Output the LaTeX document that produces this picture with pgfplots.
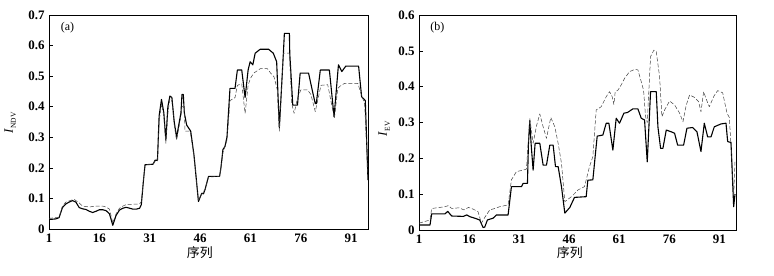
\documentclass[border=0pt]{standalone}
\usepackage{fontspec}
\setmainfont{Liberation Serif}
\newfontfamily\cjk{Noto Sans CJK SC}
\usepackage{pgfplots}
\pgfplotsset{compat=1.18}
\pgfplotsset{
  myax/.style={
    scale only axis,
    xmin=1, xmax=96, ymin=0,
    xtick={1,16,31,46,61,76,91},
    tick align=inside,
    xtick style={draw=none},
    ytick style={black, line width=0.6bp},
    major tick length=4bp,
    axis line style={line width=0.8bp},
    ticklabel style={font=\fontsize{13}{15}\selectfont\bfseries},
    /pgf/number format/assume math mode=true,
    yticklabel style={/pgf/number format/fixed, /pgf/number format/precision=1, xshift=-1bp},
    xticklabel style={yshift=-1bp},
    xtick pos=bottom, ytick pos=left,
    clip mode=individual,
  },
  sol/.style={black, line width=1.1bp, line join=round},
  das/.style={black!75, line width=0.5bp, dash pattern=on 4bp off 2bp, line join=round},
}
\begin{document}
\begin{tikzpicture}
\useasboundingbox (0,0) rectangle (774bp,276bp);
% ---------- (a)
\begin{axis}[myax, at={(49bp,47bp)}, anchor=south west, width=319bp, height=214bp,
  ymax=0.7, ytick={0,0.1,...,0.7}]
\addplot[sol] coordinates {(1,0.032)(2,0.032)(3,0.033)(4,0.037)(5,0.07)(6,0.082)(7,0.088)(8,0.093)(9,0.088)(10,0.07)(11,0.066)(12,0.064)(13,0.058)(14,0.054)(15,0.058)(16,0.063)(17,0.063)(18,0.06)(19,0.05)(20,0.012)(21,0.045)(22,0.062)(23,0.068)(24,0.071)(25,0.068)(26,0.065)(27,0.065)(28,0.068)(28.5,0.08)(29.1,0.155)(29.6,0.21)(32,0.212)(32.6,0.225)(33.3,0.225)(33.8,0.37)(34.5,0.424)(35.2,0.38)(35.8,0.29)(36.4,0.40)(37,0.435)(37.6,0.43)(38.3,0.35)(39,0.30)(39.8,0.35)(40.3,0.38)(40.6,0.44)(41,0.44)(41.3,0.38)(42,0.34)(43.2,0.32)(44.2,0.24)(45.5,0.09)(46.5,0.117)(47,0.115)(47.5,0.13)(48.5,0.172)(51.8,0.172)(52.2,0.2)(52.8,0.26)(53.4,0.27)(54,0.30)(54.9,0.46)(56.4,0.46)(57.1,0.52)(58.4,0.52)(59.4,0.43)(60.3,0.52)(60.9,0.547)(61.7,0.537)(62.4,0.575)(63.9,0.588)(66.4,0.588)(67.8,0.575)(68.8,0.547)(69.6,0.33)(70.8,0.575)(71.1,0.64)(72.6,0.64)(72.7,0.575)(73.6,0.405)(75,0.405)(75.8,0.51)(78.3,0.51)(79.6,0.444)(80.3,0.41)(80.6,0.41)(81.8,0.52)(84.5,0.52)(85.9,0.367)(87.2,0.537)(88.2,0.515)(89.4,0.533)(93.2,0.533)(94.1,0.433)(95.2,0.42)(96,0.16)};
\addplot[das] coordinates {(1,0.035)(4,0.038)(5,0.075)(6,0.088)(7,0.092)(8.5,0.097)(10,0.085)(11,0.075)(13,0.072)(15,0.075)(17,0.075)(18,0.072)(19,0.065)(20,0.02)(21,0.05)(22,0.068)(23,0.075)(24,0.08)(28,0.082)(28.5,0.09)(29.1,0.155)(29.6,0.21)(32,0.212)(32.6,0.222)(33.3,0.222)(33.8,0.35)(34.5,0.41)(35.2,0.37)(35.8,0.28)(36.4,0.38)(37,0.425)(37.6,0.42)(38.3,0.34)(39,0.29)(39.8,0.34)(40.3,0.37)(40.6,0.40)(41.3,0.40)(41.5,0.32)(43,0.32)(43.2,0.31)(44.2,0.235)(45.5,0.095)(46.5,0.115)(47.5,0.13)(48.5,0.17)(51.8,0.172)(52.2,0.2)(52.8,0.25)(54,0.29)(54.9,0.42)(56.4,0.43)(57.1,0.47)(58.4,0.475)(59.4,0.378)(60.3,0.47)(61,0.493)(62,0.51)(64,0.525)(66,0.525)(67,0.51)(68,0.498)(69,0.455)(69.6,0.32)(70.8,0.575)(72.6,0.575)(73.3,0.41)(74,0.378)(75,0.428)(76,0.455)(78,0.455)(79,0.44)(80.3,0.384)(82,0.47)(84,0.472)(86,0.362)(87,0.46)(88,0.47)(89,0.476)(93,0.476)(94,0.44)(95,0.41)(96,0.17)};
\node[font=\fontsize{12}{14}\selectfont] at (axis description cs:0.058,0.94) {(a)};
\node[font=\fontsize{13}{15}\selectfont\cjk] at (axis description cs:0.473,-0.112) {序列};
\node[rotate=90, font=\fontsize{13}{15}\selectfont] at (axis description cs:-0.122,0.495) {\textit{I}\raisebox{-0.5ex}{\fontsize{7.5}{8}\selectfont NDV}};
\end{axis}
% ---------- (b)
\begin{axis}[myax, at={(419bp,46bp)}, anchor=south west, width=317bp, height=215bp,
  ymax=0.6, ytick={0,0.1,...,0.6}]
\addplot[sol] coordinates {(1,0.014)(4.3,0.014)(4.8,0.045)(8.8,0.045)(9.6,0.052)(10.8,0.039)(14.3,0.038)(15.3,0.042)(16.3,0.037)(17.7,0.033)(19.2,0.028)(20.2,0.007)(20.7,0.008)(21.5,0.028)(23.2,0.033)(24.2,0.042)(27.7,0.042)(28.7,0.121)(31.7,0.121)(32.2,0.13)(33.5,0.13)(33.8,0.24)(34.2,0.305)(34.6,0.24)(35.2,0.167)(35.8,0.242)(37.2,0.242)(38.2,0.181)(39.2,0.181)(40.2,0.237)(41.2,0.237)(41.9,0.177)(42.7,0.177)(43.7,0.121)(44.7,0.047)(46.2,0.063)(47.6,0.091)(51.1,0.093)(51.6,0.139)(53.1,0.14)(54.4,0.262)(56.1,0.265)(57.1,0.298)(57.9,0.298)(59.1,0.223)(60.1,0.312)(61.1,0.298)(62.4,0.326)(63.5,0.328)(65.1,0.338)(66.6,0.338)(67.6,0.312)(68.6,0.307)(69.4,0.19)(70.4,0.386)(72.1,0.386)(72.6,0.288)(73.4,0.228)(74.1,0.228)(75.1,0.279)(76.6,0.274)(77.6,0.27)(78.5,0.237)(80.3,0.237)(81.3,0.284)(83,0.286)(84.3,0.274)(85.5,0.219)(86.5,0.298)(87.5,0.26)(88.5,0.26)(89.5,0.288)(91.5,0.296)(93,0.298)(93.5,0.247)(94.5,0.244)(95.3,0.065)(95.7,0.1)};
\addplot[das] coordinates {(1,0.019)(4.3,0.028)(4.8,0.06)(8.8,0.065)(9.8,0.068)(10.8,0.06)(13,0.062)(14.5,0.056)(15.8,0.063)(17.3,0.058)(18.7,0.051)(19.7,0.019)(20.7,0.035)(22.2,0.056)(23.7,0.06)(25.2,0.065)(27.7,0.07)(28.7,0.14)(30.2,0.163)(32.2,0.167)(33.2,0.17)(34.2,0.312)(35.2,0.242)(36.2,0.29)(37.2,0.324)(38.2,0.288)(39.2,0.256)(40.5,0.314)(41.7,0.288)(42.7,0.242)(43.7,0.186)(44.7,0.079)(46.7,0.093)(48.7,0.112)(50.6,0.121)(52.1,0.177)(53.1,0.205)(54.1,0.335)(55.6,0.344)(57.1,0.372)(58.1,0.386)(58.9,0.372)(59.4,0.35)(59.8,0.386)(60.6,0.39)(61.6,0.405)(62.6,0.423)(64.1,0.442)(65.6,0.448)(66.6,0.447)(67.6,0.414)(68.3,0.39)(68.9,0.316)(69.4,0.3)(70.4,0.484)(71.4,0.502)(72.1,0.498)(73.1,0.428)(73.8,0.316)(74.6,0.335)(76.1,0.36)(77.6,0.349)(79.1,0.326)(80.1,0.302)(81.1,0.349)(82.1,0.377)(83.6,0.37)(84.8,0.358)(85.5,0.33)(86.3,0.386)(87,0.367)(88,0.344)(89.4,0.374)(90.5,0.389)(92,0.383)(93.3,0.326)(94,0.314)(94.7,0.205)(95.3,0.093)(95.7,0.19)};
\node[font=\fontsize{12}{14}\selectfont] at (axis description cs:0.058,0.94) {(b)};
\node[font=\fontsize{13}{15}\selectfont\cjk] at (axis description cs:0.476,-0.107) {序列};
\node[rotate=90, font=\fontsize{13}{15}\selectfont] at (axis description cs:-0.11,0.47) {\textit{I}\raisebox{-0.5ex}{\fontsize{7.5}{8}\selectfont EV}};
\end{axis}
\end{tikzpicture}
\end{document}
